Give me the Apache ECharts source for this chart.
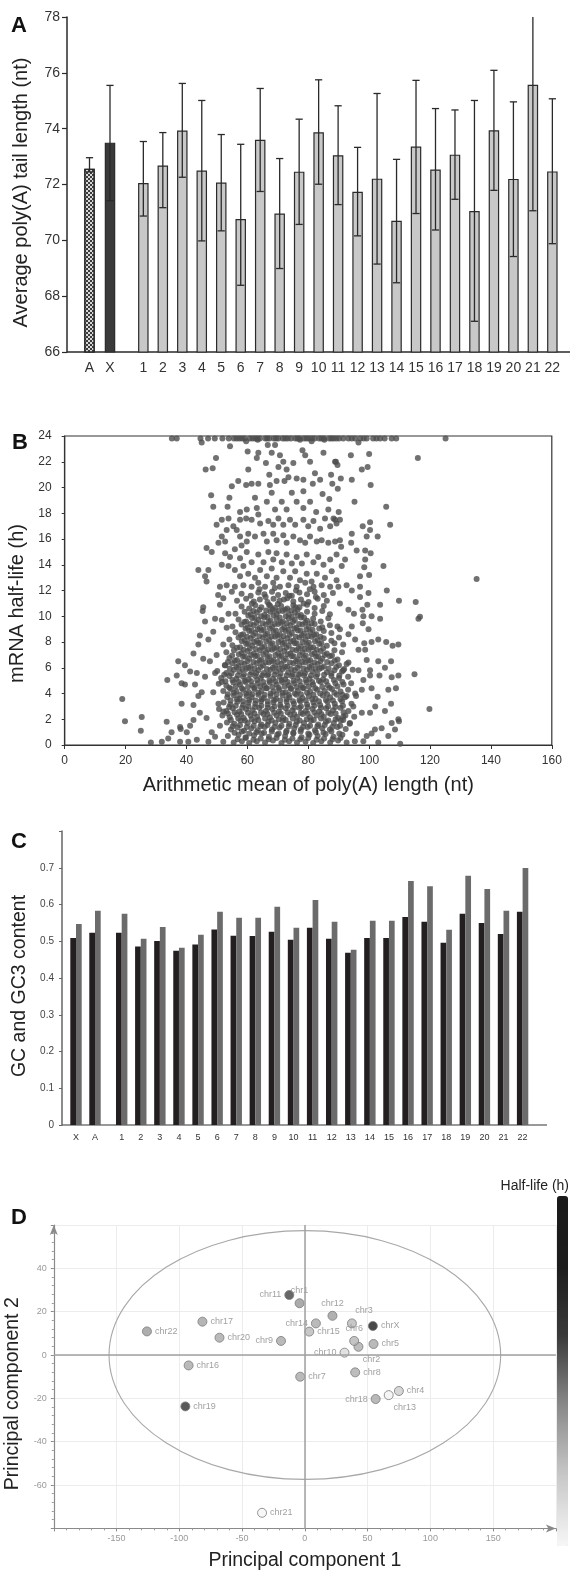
<!DOCTYPE html>
<html><head><meta charset="utf-8">
<script src="https://cdn.jsdelivr.net/npm/echarts@6/dist/echarts.min.js"></script>
<style>html,body{margin:0;padding:0;background:#fff}#c{width:570px;height:1570px}</style>
</head><body><div id="c"></div>
<script>
// ---------- Panel A: average poly(A) tail length ----------
const tailCatsAX = ['A', 'X'];
const tailMeanAX = [72.56, 73.50];
const tailLowAX = [72.45, 71.42];
const tailHighAX = [72.96, 75.55];
const chrCats = ['1','2','3','4','5','6','7','8','9','10','11','12','13','14','15','16','17','18','19','20','21','22'];
const tailMean = [72.05,72.68,73.93,72.50,72.07,70.76,73.60,70.96,72.46,73.87,73.05,71.74,72.21,70.70,73.36,72.54,73.07,71.05,73.94,72.20,75.57,72.47];
const tailLow  = [70.87,71.17,72.26,69.98,70.34,68.39,71.75,68.99,70.57,72.01,71.28,70.16,69.15,68.48,70.96,70.37,71.47,67.10,71.79,69.42,71.06,69.88];
const tailHigh = [73.54,73.86,75.62,75.01,73.79,73.44,75.44,72.93,74.34,75.75,74.82,73.33,75.26,72.90,75.73,74.72,74.67,75.01,76.09,74.96,80.08,75.07];

// ---------- Panel B: half-life vs mean poly(A) length ----------
const halfLifeCappedX = [35.2,36.8,44.6,47.1,49.3,51.8,53.9,55.6,57.4,59.1,60.8,62.6,64.1,65.9,67.2,68.7,70.1,71.6,73.2,74.3,75.8,77.1,78.6,80.2,82.1,83.6,85.2,86.9,88.3,90.1,91.5,93.2,95.4,97.1,99.2,101.3,103.6,105.1,107.4,108.9,125.1,56.5,58.3,61.7,63.3,66.5,69.4,72.4,76.5,79.4,81.2,84.4,87.6,89.2,94.3,98.2,102.4];
const halfLifeCap = 23.8;
const halfLifeUpper = [[45.0,23.5],[49.7,22.3],[46.3,21.4],[48.6,21.5],[48.1,19.4],[48.8,18.5],[53.5,18.5],[54.1,19.2],[54.3,23.2],[60.1,22.8],[60.3,21.4],[59.6,23.6],[63.4,23.7],[66.7,23.3],[63.6,22.7],[63.1,22.3],[66.1,21.9],[68.0,22.7],[69.1,23.3],[70.7,22.5],[71.8,22.0],[70.2,21.6],[72.9,21.4],[75.1,21.9],[77.3,23.7],[78.1,22.9],[79.0,22.5],[81.1,23.6],[80.6,22.0],[82.2,21.1],[85.3,23.7],[85.0,22.7],[88.8,22.0],[87.5,21.0],[57.0,20.5],[59.6,20.2],[61.4,20.3],[63.6,20.3],[67.2,21.0],[67.4,20.2],[68.0,19.6],[69.6,20.5],[72.2,20.5],[73.5,20.8],[76.2,20.7],[78.4,20.6],[78.4,19.7],[81.5,20.3],[83.9,20.6],[84.7,19.5],[87.9,20.3],[86.9,19.1],[54.9,20.1],[57.6,18.1],[59.8,18.3],[62.5,19.2],[63.1,18.4],[66.4,18.9],[69.1,18.3],[71.3,18.9],[72.9,18.3],[74.6,19.6],[76.2,18.9],[78.4,18.4],[80.6,18.9],[82.6,18.1],[86.6,18.3],[88.3,17.6],[90.0,18.1],
[51.6,17.5],[53.8,17.6],[49.9,17.1],[55.4,17.0],[57.6,17.5],[59.6,17.6],[61.4,17.5],[63.6,17.9],[64.2,17.2],[66.9,17.4],[68.5,17.1],[70.2,17.6],[71.8,17.1],[74.0,17.5],[75.7,17.1],[78.4,17.5],[80.0,17.0],[81.7,17.4],[83.9,16.8],[85.5,17.6],[87.2,17.0],[89.3,17.2],
[51.6,16.2],[53.2,16.7],[52.7,15.8],[56.5,16.7],[57.6,16.2],[58.1,15.5],[60.3,16.4],[59.8,15.8],[62.5,16.2],[65.3,16.4],[66.4,15.8],[68.5,16.4],[69.6,15.9],[71.8,16.3],[72.9,15.7],[75.1,16.2],[77.3,15.9],[79.0,15.7],[80.6,16.2],[82.8,15.8],[84.4,15.9],[86.6,15.7],[88.8,15.8],
[46.6,15.3],[48.3,15.0],[50.5,15.7],[52.7,14.9],[54.3,14.6],[55.9,15.2],[57.6,14.5],[59.8,15.0],[61.4,14.2],[63.6,14.8],[65.3,14.2],[66.9,15.0],[68.5,14.4],[69.6,14.9],[71.3,14.2],[72.9,14.8],[74.6,14.1],[76.2,14.6],[77.9,14.1],[79.5,14.8],[81.7,14.2],[83.3,14.6],[85.0,14.0],[87.2,14.4],[89.3,14.8],
[51.6,14.0],[53.8,13.9],[43.9,13.6],[47.2,13.6],[46.1,13.1],[46.6,12.7],[55.9,13.6],[58.7,13.9],[57.6,13.1],[60.3,13.3],[62.5,13.0],[64.2,13.6],[66.4,13.1],[68.0,13.7],[69.6,13.0],[71.8,13.5],[74.0,13.0],[75.7,13.5],[77.3,12.8],[79.5,13.3],[81.1,12.7],[82.8,13.3],[85.5,13.0],[87.7,13.5],[89.3,12.8],
[51.0,12.3],[53.2,12.4],[55.9,12.3],[58.7,12.4],[61.4,12.3],[63.6,12.6],[65.8,12.3],[68.5,12.6],[70.7,12.3],[73.5,12.4],[76.2,12.3],[79.0,12.6],[81.7,12.3],[84.4,12.4],[87.2,12.3],[50.4,11.65]];
const halfLifeRight = [[96.5,23.5],[94.0,22.5],[100.0,22.6],[116.0,22.3],[89.1,22.0],[89.6,21.75],[97.6,21.4],[99.5,21.6],[90.7,20.7],[94.3,20.6],[89.7,19.9],[100.5,20.2],[95.2,18.9],[105.6,18.5],[88.8,17.5],[90.4,17.5],[97.9,17.0],[100.3,17.3],[100.3,16.7],[106.9,17.1],[99.2,16.2],[102.8,16.2],[94.3,16.4],[90.4,15.9],[94.1,15.7],[90.8,15.4],[95.9,15.1],[98.7,15.1],[100.5,14.9],[92.1,14.4],[98.7,14.4],[91.0,13.9],[104.7,13.9],[98.4,13.8],[100.0,13.2],[97.0,13.1],[92.6,12.4],[97.0,12.3],[99.8,11.8],[105.8,12.0],[109.8,11.2],[115.3,11.1],[116.2,9.8],[116.7,9.97],[135.3,12.9],[103.6,9.8],[99.4,10.9],[97.8,10.5],[95.0,10.2],[97.9,9.45],[94.3,9.2],[103.0,8.2],[105.6,8.0],[107.7,7.7],[109.6,7.8],[100.8,8.0],[98.4,7.9],[96.5,7.4],[91.5,7.8],[99.2,6.6],[103.0,6.5],[107.2,6.5],[105.2,6.0],[114.9,5.5],[103.4,5.4],[107.4,5.26],[109.6,5.4],[100.3,5.4],[98.1,5.05],[100.8,4.4],[106.3,4.3],[108.8,4.4],[102.8,3.75],[102.0,3.0],[107.2,3.2],[105.2,2.65],[119.8,2.8],[100.3,2.5],[97.6,2.5],[109.6,2.0],[109.8,1.85],[107.4,1.7],[104.1,1.3],[101.9,1.2],[100.8,0.9],[99.2,0.7],[98.1,0.3],[103.0,0.2],[110.2,0.1],[106.3,0.7],[108.5,1.2],[95.9,0.9],[93.7,1.7],[91.5,2.2],[94.8,3.0],[92.6,3.8],[95.4,4.0],[97.6,4.3],[94.1,4.8],[96.5,5.8],[93.2,6.4],[91.5,5.8],[100.3,5.8],[98.7,7.4],[95.4,8.2],[93.2,8.6],[90.4,9.0],[99.8,9.0],[98.1,10.0],[93.2,10.5],[90.4,11.0],[97.0,11.5],[94.3,12.0],[89.9,12.3],[103.6,10.9],[100.8,10.0]];
const halfLifeLeft = [[18.9,3.57],[19.8,1.84],[25.3,2.17],[25.0,1.11],[28.3,0.2],[31.9,0.26],[33.5,1.8],[33.7,5.05],[34.0,0.5],[35.1,1.0],[36.8,5.4],[37.3,6.5],[37.9,0.26],[37.9,1.4],[38.1,1.25],[38.4,4.8],[38.4,3.2],[39.5,6.2],[39.5,4.7],[40.1,1.0],[40.6,0.26],[41.2,5.7],[41.2,1.5],[42.3,7.1],[42.3,3.1],[42.3,1.95],[42.8,4.7],[43.4,5.6],[43.4,0.4],[43.9,7.8],[43.9,3.8],[44.4,8.5],[44.4,2.5],[45.0,4.1],[45.3,10.4],[45.5,10.7],[45.5,6.7],[46.1,9.6],[46.1,5.3],[46.6,2.1],[47.2,8.2],[47.2,0.26],[47.7,6.5],[48.3,1.0],[48.8,8.8],[48.8,4.1],[49.4,9.8],[49.4,5.6],[49.4,0.65],[49.9,7.0],[50.5,3.2],[51.0,10.9],[51.0,1.5],[51.6,4.9],[51.6,9.7],[52.1,0.26],[52.1,2.6],[52.1,7.8],[52.1,11.4],[52.7,6.2],[53.2,9.1],[53.8,10.2],[54.9,11.9]];
const halfLifeCore = [
[55.5,0.2],[58.2,0.3],[60.6,0.15],[63.1,0.3],[65.8,0.2],[68.4,0.35],[71.2,0.15],[73.7,0.3],[76.3,0.2],[79.1,0.25],[81.6,0.15],[84.3,0.3],[87.2,0.2],[89.8,0.35],[92.6,0.2],[95.3,0.3],
[53.6,0.7],[57.1,0.8],[59.4,0.6],[62.2,0.75],[64.7,0.9],[67.1,0.65],[69.8,0.8],[72.4,0.7],[75.1,0.9],[77.8,0.6],[80.4,0.8],[83.1,0.7],[85.7,0.85],[88.3,0.65],[91.2,0.8],
[54.6,1.2],[56.8,1.35],[58.9,1.1],[61.3,1.3],[63.4,1.15],[65.7,1.4],[68.1,1.2],[70.6,1.35],[72.9,1.1],[75.4,1.3],[77.6,1.2],[79.8,1.4],[82.2,1.15],[84.6,1.3],[87.1,1.2],[89.6,1.4],[92.3,1.25],
[53.3,1.75],[55.7,1.65],[57.8,1.9],[60.1,1.7],[62.4,1.85],[64.6,1.6],[66.9,1.8],[69.2,1.7],[71.6,1.9],[73.8,1.65],[76.2,1.8],[78.6,1.7],[80.9,1.9],[83.3,1.6],[85.8,1.8],[88.4,1.7],[90.7,1.9],[93.6,1.65],
[51.8,2.3],[54.2,2.15],[56.6,2.35],[58.8,2.1],[61.1,2.3],[63.2,2.2],[65.3,2.4],[67.4,2.15],[69.6,2.3],[71.8,2.1],[74.1,2.35],[76.3,2.2],[78.2,2.4],[80.6,2.15],[82.7,2.3],[85.1,2.2],[87.4,2.4],[89.8,2.1],[92.2,2.3],[95.1,2.2],
[50.7,2.8],[53.1,2.65],[55.2,2.85],[57.4,2.6],[59.6,2.8],[61.7,2.7],[63.9,2.9],[66.1,2.65],[68.2,2.8],[70.4,2.6],[72.6,2.85],[74.8,2.7],[77.1,2.9],[79.2,2.65],[81.4,2.8],[83.6,2.6],[85.9,2.85],[88.1,2.7],[90.6,2.9],[93.2,2.65],
[52.2,3.3],[54.4,3.15],[56.7,3.35],[58.6,3.1],[60.4,3.3],[62.6,3.2],[64.5,3.4],[66.7,3.15],[68.6,3.3],[70.8,3.1],[72.9,3.35],[75.3,3.2],[77.4,3.4],[79.6,3.15],[81.7,3.3],[83.9,3.1],[86.3,3.35],[88.7,3.2],[91.1,3.4],[94.2,3.2],
[53.4,3.7],[55.6,3.85],[57.4,3.6],[59.7,3.8],[61.4,3.7],[63.6,3.9],[65.4,3.65],[67.6,3.8],[69.4,3.6],[71.6,3.85],[73.8,3.7],[76.1,3.9],[78.1,3.65],[80.2,3.8],[82.4,3.6],[84.8,3.85],[87.2,3.7],[89.4,3.9],[92.1,3.7],[95.7,3.8],
[52.1,4.2],[54.6,4.35],[56.4,4.15],[58.6,4.3],[60.5,4.1],[62.4,4.35],[64.6,4.2],[66.4,4.4],[68.6,4.15],[70.5,4.3],[72.6,4.1],[74.4,4.35],[76.6,4.2],[78.5,4.4],[80.6,4.15],[82.9,4.3],[85.4,4.2],[87.8,4.35],[90.6,4.15],[93.1,4.3],
[50.6,4.75],[53.1,4.6],[55.4,4.85],[57.6,4.7],[59.4,4.9],[61.6,4.65],[63.4,4.8],[65.6,4.6],[67.4,4.85],[69.6,4.7],[71.4,4.9],[73.6,4.65],[75.4,4.8],[77.6,4.6],[79.4,4.85],[81.6,4.7],[84.1,4.9],[86.4,4.65],[88.9,4.8],[91.6,4.7],
[51.4,5.2],[54.1,5.35],[56.4,5.15],[58.6,5.3],[60.4,5.1],[62.6,5.35],[64.4,5.2],[66.6,5.4],[68.4,5.15],[70.6,5.3],[72.4,5.1],[74.6,5.35],[76.4,5.2],[78.6,5.4],[80.4,5.15],[82.6,5.3],[84.9,5.1],[87.6,5.35],[90.1,5.2],[93.1,5.3],
[50.1,5.75],[53.1,5.6],[55.6,5.85],[57.4,5.7],[59.6,5.9],[61.4,5.65],[63.6,5.8],[65.4,5.6],[67.6,5.85],[69.4,5.7],[71.6,5.9],[73.4,5.65],[75.6,5.8],[77.4,5.6],[79.6,5.85],[81.4,5.7],[83.6,5.9],[86.1,5.65],[88.6,5.8],[91.1,5.7],[94.6,5.85],
[52.6,6.2],[55.1,6.35],[57.1,6.15],[59.1,6.3],[61.1,6.1],[63.1,6.35],[65.1,6.2],[67.1,6.4],[69.1,6.15],[71.1,6.3],[73.1,6.1],[75.1,6.35],[77.1,6.2],[79.1,6.4],[81.1,6.15],[83.1,6.3],[85.1,6.1],[87.6,6.35],[90.1,6.2],[92.6,6.3],
[54.1,6.75],[56.6,6.6],[58.6,6.85],[60.6,6.7],[62.6,6.9],[64.6,6.65],[66.6,6.8],[68.6,6.6],[70.6,6.85],[72.6,6.7],[74.6,6.9],[76.6,6.65],[78.6,6.8],[80.6,6.6],[82.6,6.85],[84.6,6.7],[87.1,6.9],[89.6,6.65],
[53.1,7.2],[55.6,7.35],[58.1,7.15],[60.1,7.3],[62.1,7.1],[64.1,7.35],[66.1,7.2],[68.1,7.4],[70.1,7.15],[72.1,7.3],[74.1,7.1],[76.1,7.35],[78.1,7.2],[80.1,7.4],[82.1,7.15],[84.1,7.3],[86.1,7.1],[88.6,7.35],[91.1,7.2],
[55.1,7.75],[57.6,7.6],[59.6,7.85],[61.6,7.7],[63.6,7.9],[65.6,7.65],[67.6,7.8],[69.6,7.6],[71.6,7.85],[73.6,7.7],[75.6,7.9],[77.6,7.65],[79.6,7.8],[81.6,7.6],[83.6,7.85],[86.1,7.7],[88.6,7.9],
[54.1,8.2],[57.1,8.35],[59.1,8.15],[61.1,8.3],[63.1,8.1],[65.1,8.35],[67.1,8.2],[69.1,8.4],[71.1,8.15],[73.1,8.3],[75.1,8.1],[77.1,8.35],[79.1,8.2],[81.1,8.4],[83.1,8.15],[85.1,8.3],[87.6,8.1],[90.1,8.35],
[56.1,8.75],[58.6,8.6],[60.6,8.85],[62.6,8.7],[64.6,8.9],[66.6,8.65],[68.6,8.8],[70.6,8.6],[72.6,8.85],[74.6,8.7],[76.6,8.9],[78.6,8.65],[80.6,8.8],[82.6,8.6],[85.1,8.85],[87.6,8.7],
[55.1,9.2],[58.1,9.35],[60.1,9.15],[62.1,9.3],[64.1,9.1],[66.1,9.35],[68.1,9.2],[70.1,9.4],[72.1,9.15],[74.1,9.3],[76.1,9.1],[78.1,9.35],[80.1,9.2],[82.1,9.4],[84.6,9.15],[87.1,9.3],[89.6,9.2],
[57.1,9.75],[59.6,9.6],[61.6,9.85],[63.6,9.7],[65.6,9.9],[67.6,9.65],[69.6,9.8],[71.6,9.6],[73.6,9.85],[75.6,9.7],[77.6,9.9],[79.6,9.65],[81.6,9.8],[84.1,9.6],[86.6,9.85],
[56.1,10.2],[59.1,10.35],[61.1,10.15],[63.1,10.3],[65.6,10.1],[67.6,10.35],[69.6,10.2],[71.6,10.4],[73.6,10.15],[75.6,10.3],[77.6,10.1],[79.6,10.35],[82.1,10.2],[84.6,10.4],[87.1,10.15],
[58.1,10.75],[60.6,10.6],[62.6,10.85],[64.6,10.7],[67.1,10.9],[69.1,10.65],[71.1,10.8],[73.1,10.6],[75.1,10.85],[77.1,10.7],[79.6,10.9],[82.1,10.65],[85.1,10.8],
[56.6,11.2],[59.6,11.35],[62.1,11.15],[64.1,11.3],[66.6,11.1],[68.6,11.35],[70.6,11.2],[73.1,11.4],[75.1,11.15],[77.6,11.3],[80.1,11.1],[83.1,11.35],[86.1,11.2],
[58.1,11.75],[61.1,11.6],[63.6,11.85],[65.6,11.7],[68.1,11.9],[70.1,11.65],[72.6,11.8],[74.6,11.6],[77.1,11.85],[79.6,11.7],[82.1,11.9],[85.1,11.65],[88.1,11.8],
[61.5,11.0],[66.0,11.5],[70.0,10.95],[73.8,11.6],[78.5,11.0],[82.5,11.5],[64.0,12.1],[69.0,12.2],[76.0,12.0],[80.5,12.1],[67.5,10.8],[72.0,11.3],[75.8,10.7]];
const halfLifeCoreDense = [
[56.8,0.45],[59.5,0.55],[62.0,0.4],[64.4,0.5],[67.0,0.45],[69.6,0.55],[72.3,0.4],[74.8,0.5],[77.4,0.45],[80.0,0.55],[82.7,0.4],[85.2,0.5],[88.0,0.45],[90.6,0.55],
[55.8,0.95],[58.2,1.05],[60.6,0.9],[63.0,1.0],[65.5,0.95],[68.0,1.05],[70.3,0.9],[72.7,1.0],[75.1,0.95],[77.5,1.05],[80.0,0.9],[82.5,1.0],[85.0,0.95],[87.6,1.05],[90.2,0.9],
[55.2,1.45],[57.6,1.55],[59.8,1.4],[62.1,1.5],[64.3,1.45],[66.6,1.55],[68.9,1.4],[71.2,1.5],[73.6,1.45],[75.9,1.55],[78.3,1.4],[80.6,1.5],[83.0,1.45],[85.4,1.55],[87.9,1.4],[90.5,1.5],
[54.6,1.95],[57.0,2.05],[59.2,1.9],[61.4,2.0],[63.6,1.95],[65.8,2.05],[68.0,1.9],[70.3,2.0],[72.6,1.95],[74.9,2.05],[77.2,1.9],[79.5,2.0],[81.8,1.95],[84.2,2.05],[86.6,1.9],[89.0,2.0],[91.5,1.95],
[53.6,2.45],[55.8,2.55],[58.0,2.4],[60.2,2.5],[62.3,2.45],[64.5,2.55],[66.6,2.4],[68.8,2.5],[71.0,2.45],[73.2,2.55],[75.4,2.4],[77.6,2.5],[79.8,2.45],[82.0,2.55],[84.3,2.4],[86.6,2.5],[89.0,2.45],[91.6,2.55],
[54.0,2.95],[56.2,3.05],[58.3,2.9],[60.4,3.0],[62.5,2.95],[64.6,3.05],[66.7,2.9],[68.9,3.0],[71.0,2.95],[73.2,3.05],[75.4,2.9],[77.6,3.0],[79.8,2.95],[82.0,3.05],[84.2,2.9],[86.5,3.0],[88.9,2.95],[91.4,3.05],
[54.5,3.45],[56.6,3.55],[58.6,3.4],[60.6,3.5],[62.7,3.45],[64.7,3.55],[66.7,3.4],[68.8,3.5],[70.8,3.45],[72.9,3.55],[75.0,3.4],[77.1,3.5],[79.2,3.45],[81.3,3.55],[83.5,3.4],[85.8,3.5],[88.1,3.45],[90.6,3.55],
[53.6,3.95],[55.6,4.05],[57.6,3.9],[59.6,4.0],[61.6,3.95],[63.6,4.05],[65.6,3.9],[67.6,4.0],[69.6,3.95],[71.6,4.05],[73.6,3.9],[75.6,4.0],[77.6,3.95],[79.6,4.05],[81.7,3.9],[83.9,4.0],[86.2,3.95],[88.6,4.05],[91.2,3.9],
[54.1,4.45],[56.2,4.55],[58.2,4.4],[60.2,4.5],[62.2,4.45],[64.2,4.55],[66.2,4.4],[68.2,4.5],[70.2,4.45],[72.2,4.55],[74.2,4.4],[76.2,4.5],[78.2,4.45],[80.2,4.55],[82.3,4.4],[84.6,4.5],[87.0,4.45],[89.6,4.55],
[52.8,4.95],[55.1,5.05],[57.2,4.9],[59.2,5.0],[61.2,4.95],[63.2,5.05],[65.2,4.9],[67.2,5.0],[69.2,4.95],[71.2,5.05],[73.2,4.9],[75.2,5.0],[77.2,4.95],[79.2,5.05],[81.3,4.9],[83.5,5.0],[85.9,4.95],[88.4,5.05],[91.2,4.9],
[52.4,5.45],[54.8,5.55],[56.9,5.4],[58.9,5.5],[60.9,5.45],[62.9,5.55],[64.9,5.4],[66.9,5.5],[68.9,5.45],[70.9,5.55],[72.9,5.4],[74.9,5.5],[76.9,5.45],[78.9,5.55],[80.9,5.4],[83.0,5.5],[85.2,5.45],[87.6,5.55],[90.2,5.4],
[54.2,5.95],[56.4,6.05],[58.4,5.9],[60.4,6.0],[62.4,5.95],[64.4,6.05],[66.4,5.9],[68.4,6.0],[70.4,5.95],[72.4,6.05],[74.4,5.9],[76.4,6.0],[78.4,5.95],[80.4,6.05],[82.4,5.9],[84.4,6.0],[86.7,5.95],[89.2,6.05],[91.8,5.9],
[53.6,6.45],[55.9,6.55],[58.0,6.4],[60.0,6.5],[62.0,6.45],[64.0,6.55],[66.0,6.4],[68.0,6.5],[70.0,6.45],[72.0,6.55],[74.0,6.4],[76.0,6.5],[78.0,6.45],[80.0,6.55],[82.0,6.4],[84.0,6.5],[86.2,6.45],[88.7,6.55],
[55.0,6.95],[57.2,7.05],[59.2,6.9],[61.2,7.0],[63.2,6.95],[65.2,7.05],[67.2,6.9],[69.2,7.0],[71.2,6.95],[73.2,7.05],[75.2,6.9],[77.2,7.0],[79.2,6.95],[81.2,7.05],[83.2,6.9],[85.4,7.0],[87.8,6.95],
[56.6,7.55],[58.8,7.4],[60.8,7.5],[62.8,7.45],[64.8,7.55],[66.8,7.4],[68.8,7.5],[70.8,7.45],[72.8,7.55],[74.8,7.4],[76.8,7.5],[78.8,7.45],[80.8,7.55],[82.8,7.4],[84.9,7.5],
[58.2,8.05],[60.2,7.9],[62.2,8.0],[64.2,7.95],[66.2,8.05],[68.2,7.9],[70.2,8.0],[72.2,7.95],[74.2,8.05],[76.2,7.9],[78.2,8.0],[80.2,7.95],[82.2,8.05],[84.3,7.9],
[57.9,8.55],[59.9,8.4],[61.9,8.5],[63.9,8.45],[65.9,8.55],[67.9,8.4],[69.9,8.5],[71.9,8.45],[73.9,8.55],[75.9,8.4],[77.9,8.5],[79.9,8.45],[81.9,8.55],[84.0,8.4],
[59.4,9.05],[61.4,8.9],[63.4,9.0],[65.4,8.95],[67.4,9.05],[69.4,8.9],[71.4,9.0],[73.4,8.95],[75.4,9.05],[77.4,8.9],[79.4,9.0],[81.4,8.95],[83.6,9.05],
[59.0,9.55],[61.0,9.4],[63.0,9.5],[65.0,9.45],[67.0,9.55],[69.0,9.4],[71.0,9.5],[73.0,9.45],[75.0,9.55],[77.0,9.4],[79.0,9.5],[81.1,9.45],
[60.3,10.05],[62.4,9.9],[64.5,10.0],[66.6,9.95],[68.6,10.05],[70.6,9.9],[72.6,10.0],[74.6,9.95],[76.6,10.05],[78.6,9.9],
[62.0,10.4],[64.0,10.5],[66.2,10.45],[68.3,10.5],[70.3,10.4],[72.4,10.5],[74.4,10.45],[76.5,10.5]];

// ---------- Panel C: GC and GC3 content ----------
const gcCatsXA = ['X', 'A'];
const gcXA = [0.509, 0.523];
const gc3XA = [0.547, 0.583];
const gcChr  = [0.523,0.486,0.501,0.474,0.491,0.532,0.515,0.514,0.526,0.504,0.537,0.507,0.469,0.509,0.509,0.566,0.553,0.496,0.575,0.550,0.520,0.580];
const gc3Chr = [0.575,0.507,0.539,0.482,0.518,0.580,0.564,0.564,0.594,0.537,0.612,0.553,0.477,0.556,0.556,0.664,0.650,0.531,0.678,0.642,0.583,0.699];

// ---------- Panel D: PCA ----------
const pcaNames = ['chr1','chr2','chr3','chr4','chr5','chr6','chr7','chr8','chr9','chr10','chr11','chr12','chr13','chr14','chr15','chr16','chr17','chr18','chr19','chr20','chr21','chr22','chrX'];
const pc1 = [-4.2,42.7,37.5,74.9,54.7,39.3,-3.7,40.1,-19.0,31.6,-12.4,22.0,66.8,8.8,3.5,-92.6,-81.6,56.4,-95.2,-68.0,-34.1,-125.8,54.2];
const pc2 = [23.9,3.8,14.6,-16.6,5.1,6.5,-10.0,-8.0,6.5,1.1,27.7,18.1,-18.5,14.6,10.8,-4.8,15.4,-20.3,-23.7,8.0,-72.8,10.9,13.4];
const pcaHalfLife = [3.6,2.9,2.5,1.8,3.0,2.6,3.0,2.9,3.0,1.2,5.8,3.4,0.2,3.0,2.5,3.0,3.2,3.0,6.6,3.0,0.1,3.5,9.5];
const ellipseCenter = [0, 0];
const ellipseRadii = [156, 57.4];

// label placement (style only)
const pcaLabelPos = {chr1:['top',[0,0]],chr2:['bottom',[13,0]],chr3:['top',[12,0]],chr4:['right',[0,0]],chr5:['right',[0,0]],chr6:['top',[0,0]],chr7:['right',[0,0]],chr8:['right',[0,0]],chr9:['left',[0,0]],chr10:['left',[0,0]],chr11:['left',[0,0]],chr12:['top',[0,0]],chr13:['bottom',[16,0]],chr14:['left',[0,0]],chr15:['right',[0,0]],chr16:['right',[0,0]],chr17:['right',[0,0]],chr18:['left',[0,0]],chr19:['right',[0,0]],chr20:['right',[0,0]],chr21:['right',[0,0]],chr22:['right',[0,0]],chrX:['right',[0,0]]};

const FONT = 'Liberation Sans, Arial, Helvetica, sans-serif';
const chart = echarts.init(document.getElementById('c'), null, {renderer: 'canvas'});

function errRender(params, api) {
  const x = api.value(0), lo = api.value(1), hi = api.value(2);
  const pLo = api.coord([x, lo]), pHi = api.coord([x, hi]);
  const hw = 3.6;
  const st = {stroke: '#2a2a2a', lineWidth: 1.3};
  return {type: 'group', children: [
    {type: 'line', shape: {x1: pLo[0], y1: pLo[1], x2: pHi[0], y2: pHi[1]}, style: st},
    {type: 'line', shape: {x1: pLo[0]-hw, y1: pLo[1], x2: pLo[0]+hw, y2: pLo[1]}, style: st},
    {type: 'line', shape: {x1: pHi[0]-hw, y1: pHi[1], x2: pHi[0]+hw, y2: pHi[1]}, style: st}
  ]};
}

const halfLifePoints = [].concat(
  halfLifeCappedX.map(x => [x, halfLifeCap]),
  halfLifeUpper, halfLifeRight, halfLifeLeft, halfLifeCore, halfLifeCoreDense);

const gridBase = {containLabel: false, outerBoundsMode: 'none'};
const barA = {color: '#c8c8c8', borderColor: '#2a2a2a', borderWidth: 1.2};

const option = {
  animation: false,
  textStyle: {fontFamily: FONT},
  grid: [
    Object.assign({left: 79.25, top: 17, width: 41, height: 335}, gridBase),
    Object.assign({left: 133.6, top: 17, width: 428.5, height: 335}, gridBase),
    Object.assign({left: 64.7, top: 436, width: 487.1, height: 309, show: true, borderColor: '#333', borderWidth: 1.2, backgroundColor: 'transparent'}, gridBase),
    Object.assign({left: 66.5, top: 831, width: 38, height: 294}, gridBase),
    Object.assign({left: 112.15, top: 831, width: 420, height: 294}, gridBase),
    Object.assign({left: 53.8, top: 1225, width: 502.1, height: 303.4}, gridBase)
  ],
  xAxis: [
    {gridIndex: 0, type: 'category', data: tailCatsAX, axisLine: {show: false}, axisTick: {show: false},
     axisLabel: {fontSize: 14, color: '#333', margin: 9}},
    {gridIndex: 1, type: 'category', data: chrCats, axisLine: {show: false}, axisTick: {show: false},
     axisLabel: {fontSize: 14, color: '#333', margin: 9, interval: 0}},
    {gridIndex: 2, type: 'value', min: 0, max: 160, interval: 20,
     axisLine: {show: true, onZero: false, lineStyle: {color: '#333', width: 1.2}},
     axisTick: {show: true, length: 4, lineStyle: {color: '#333'}},
     axisLabel: {fontSize: 12, color: '#333', margin: 10}, splitLine: {show: false},
     name: 'Arithmetic mean of poly(A) length (nt)', nameLocation: 'middle', nameGap: 30,
     nameTextStyle: {fontSize: 20, color: '#222'}},
    {gridIndex: 3, type: 'category', data: gcCatsXA, axisLine: {show: false}, axisTick: {show: false},
     axisLabel: {fontSize: 9, color: '#333', margin: 8}},
    {gridIndex: 4, type: 'category', data: chrCats, axisLine: {show: false}, axisTick: {show: false},
     axisLabel: {fontSize: 9, color: '#333', margin: 8, interval: 0}},
    {gridIndex: 5, type: 'value', min: -200, max: 200, interval: 50,
     axisLine: {show: true, onZero: false, symbol: ['none', 'arrow'], symbolSize: [6, 10], lineStyle: {color: '#8a8a8a', width: 1.2}},
     axisTick: {show: true, length: 3, lineStyle: {color: '#8a8a8a'}},
     minorTick: {show: true, splitNumber: 5, length: 2, lineStyle: {color: '#9a9a9a'}},
     axisLabel: {fontSize: 9, color: '#999', margin: 6, formatter: v => (Math.abs(v) === 200 ? '' : String(v))},
     splitLine: {show: true, lineStyle: {color: '#ececec'}},
     name: 'Principal component 1', nameLocation: 'middle', nameGap: 22,
     nameTextStyle: {fontSize: 19.5, color: '#222'}}
  ],
  yAxis: [
    {gridIndex: 0, type: 'value', min: 66, max: 78, interval: 2, offset: 12.25,
     axisLine: {show: true, lineStyle: {color: '#2a2a2a', width: 1.5}},
     axisTick: {show: true, length: 5, lineStyle: {color: '#2a2a2a', width: 1.2}},
     axisLabel: {fontSize: 14, color: '#333', margin: 7}, splitLine: {show: false},
     name: 'Average poly(A) tail length (nt)', nameLocation: 'middle', nameGap: 36,
     nameTextStyle: {fontSize: 20, color: '#222', padding: [0, 16, 0, 0]}},
    {gridIndex: 1, type: 'value', min: 66, max: 78, interval: 2, show: false},
    {gridIndex: 2, type: 'value', min: 0, max: 24, interval: 2,
     axisLine: {show: true, onZero: false, lineStyle: {color: '#333', width: 1.2}},
     axisTick: {show: true, length: 3, lineStyle: {color: '#333'}},
     axisLabel: {fontSize: 12, color: '#333', margin: 13}, splitLine: {show: false},
     name: 'mRNA half-life (h)', nameLocation: 'middle', nameGap: 32.5,
     nameTextStyle: {fontSize: 20, color: '#222', padding: [0, 26, 0, 0]}},
    {gridIndex: 3, type: 'value', min: 0, max: 0.8, interval: 0.1, offset: 4.5,
     axisLine: {show: true, lineStyle: {color: '#666', width: 1.5}},
     axisTick: {show: true, length: 3, lineStyle: {color: '#666'}},
     axisLabel: {fontSize: 10, color: '#444', margin: 8, formatter: v => (v > 0.75 ? '' : String(+v.toFixed(1)))},
     splitLine: {show: false},
     name: 'GC and GC3 content', nameLocation: 'middle', nameGap: 32,
     nameTextStyle: {fontSize: 19.5, color: '#222', padding: [0, 16, 0, 0]}},
    {gridIndex: 4, type: 'value', min: 0, max: 0.8, interval: 0.1, show: false},
    {gridIndex: 5, type: 'value', min: -80, max: 60, interval: 20,
     axisLine: {show: true, onZero: false, symbol: ['none', 'arrow'], symbolSize: [6, 10], lineStyle: {color: '#8a8a8a', width: 1.2}},
     axisTick: {show: true, length: 3, lineStyle: {color: '#8a8a8a'}},
     minorTick: {show: true, splitNumber: 5, length: 2, lineStyle: {color: '#9a9a9a'}},
     axisLabel: {fontSize: 9, color: '#999', margin: 7, formatter: v => ((v === 60 || v === -80) ? '' : String(v))},
     splitLine: {show: true, lineStyle: {color: '#ececec'}},
     name: 'Principal component 2', nameLocation: 'middle', nameGap: 24,
     nameTextStyle: {fontSize: 19.5, color: '#222', padding: [0, 34, 0, 0]}}
  ],
  visualMap: [{
    type: 'continuous', seriesIndex: 10, dimension: 2, min: 0, max: 10,
    orient: 'vertical', right: 2, top: 1196, itemWidth: 11, itemHeight: 350,
    padding: 0, calculable: false, show: true, hoverLink: false, text: ['', ''], textGap: 0,
    inRange: {color: ['#f7f7f7', '#c8c8c8', '#8a8a8a', '#3a3a3a', '#1c1c1c', '#1a1a1a']},
    textStyle: {color: 'rgba(0,0,0,0)', fontSize: 1}
  }],
  series: [
    {type: 'bar', xAxisIndex: 0, yAxisIndex: 0, barWidth: 10.5,
     data: tailMeanAX.map((v, i) => (i === 0
       ? {value: v, itemStyle: {color: '#d8d8d8', borderColor: '#2a2a2a', borderWidth: 1.2,
           decal: {symbol: 'rect', symbolSize: 1, dashArrayX: [[2, 2], [0, 2, 2, 0]], dashArrayY: [2, 0], color: '#3a3a3a'}}}
       : {value: v, itemStyle: {color: '#3a3a3a', borderColor: '#2a2a2a', borderWidth: 1.2}}))},
    {type: 'custom', xAxisIndex: 0, yAxisIndex: 0, renderItem: errRender, clip: true, z: 5,
     encode: {x: 0, y: [1, 2]}, data: tailMeanAX.map((v, i) => [i, tailLowAX[i], tailHighAX[i]])},
    {type: 'bar', xAxisIndex: 1, yAxisIndex: 1, barWidth: 10.5, itemStyle: barA, data: tailMean},
    {type: 'custom', xAxisIndex: 1, yAxisIndex: 1, renderItem: errRender, clip: true, z: 5,
     encode: {x: 0, y: [1, 2]}, data: tailMean.map((v, i) => [i, tailLow[i], tailHigh[i]])},
    {type: 'scatter', xAxisIndex: 2, yAxisIndex: 2, symbolSize: 6, clip: true, large: false,
     itemStyle: {color: '#4e4e4e', opacity: 0.8}, data: halfLifePoints},
    {type: 'bar', xAxisIndex: 3, yAxisIndex: 3, barWidth: 5.7, barGap: '0%', itemStyle: {color: '#231f20'}, data: gcXA},
    {type: 'bar', xAxisIndex: 3, yAxisIndex: 3, barWidth: 5.7, barGap: '0%', itemStyle: {color: '#6b6b6b'}, data: gc3XA},
    {type: 'bar', xAxisIndex: 4, yAxisIndex: 4, barWidth: 5.7, barGap: '0%', itemStyle: {color: '#231f20'}, data: gcChr},
    {type: 'bar', xAxisIndex: 4, yAxisIndex: 4, barWidth: 5.7, barGap: '0%', itemStyle: {color: '#6b6b6b'}, data: gc3Chr},
    {type: 'custom', xAxisIndex: 5, yAxisIndex: 5, silent: true, z: 1,
     renderItem: function (params, api) {
       const c = api.coord([api.value(0), api.value(1)]);
       const s = api.size([api.value(2), api.value(3)]);
       return {type: 'ellipse', shape: {cx: c[0], cy: c[1], rx: s[0], ry: s[1]},
               style: {fill: 'none', stroke: '#a8a8a8', lineWidth: 1.1}};
     },
     data: [[ellipseCenter[0], ellipseCenter[1], ellipseRadii[0], ellipseRadii[1]]]},
    {type: 'scatter', xAxisIndex: 5, yAxisIndex: 5, symbolSize: 9, z: 4,
     itemStyle: {borderColor: '#7a7a7a', borderWidth: 1},
     label: {show: true, formatter: '{b}', fontSize: 9, color: '#888', distance: 3},
     data: pcaNames.map((n, i) => ({name: n, value: [pc1[i], pc2[i], pcaHalfLife[i]],
       label: {position: pcaLabelPos[n][0], offset: pcaLabelPos[n][1]}})),
     markLine: {silent: true, symbol: 'none', label: {show: false},
       lineStyle: {color: '#a0a0a0', width: 1.5, type: 'solid'},
       data: [{xAxis: 0}, {yAxis: 0}]}}
  ],
  graphic: [
    {type: 'line', shape: {x1: 67, y1: 352, x2: 570, y2: 352}, style: {stroke: '#2a2a2a', lineWidth: 1.5}, silent: true},
    {type: 'line', shape: {x1: 62, y1: 1125, x2: 547, y2: 1125}, style: {stroke: '#777', lineWidth: 1.6}, silent: true},
    {type: 'text', x: 11, y: 25.5, style: {text: 'A', fontSize: 22, fontWeight: 'bold', fontFamily: FONT, fill: '#111', align: 'left', verticalAlign: 'middle', textAlign: 'left', textVerticalAlign: 'middle'}},
    {type: 'text', x: 12, y: 443, style: {text: 'B', fontSize: 22, fontWeight: 'bold', fontFamily: FONT, fill: '#111', align: 'left', verticalAlign: 'middle', textAlign: 'left', textVerticalAlign: 'middle'}},
    {type: 'text', x: 11, y: 841.5, style: {text: 'C', fontSize: 22, fontWeight: 'bold', fontFamily: FONT, fill: '#111', align: 'left', verticalAlign: 'middle', textAlign: 'left', textVerticalAlign: 'middle'}},
    {type: 'text', x: 11, y: 1217.5, style: {text: 'D', fontSize: 22, fontWeight: 'bold', fontFamily: FONT, fill: '#111', align: 'left', verticalAlign: 'middle', textAlign: 'left', textVerticalAlign: 'middle'}},
    {type: 'text', x: 569, y: 1186, style: {text: 'Half-life (h)', fontSize: 14, fontFamily: FONT, fill: '#222', align: 'right', verticalAlign: 'middle', textAlign: 'right', textVerticalAlign: 'middle'}}
  ]
};
chart.setOption(option);
</script>
</body></html>
